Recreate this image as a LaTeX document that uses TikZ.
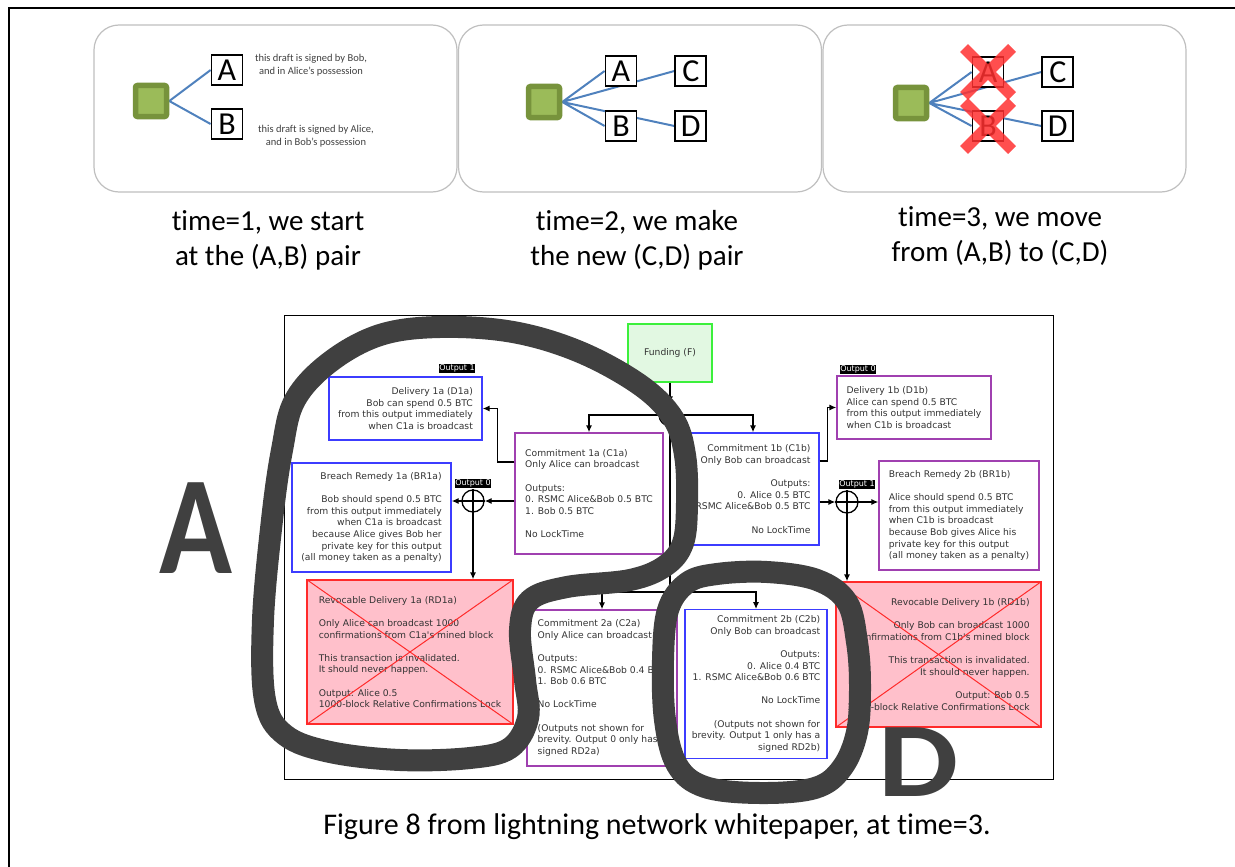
\documentclass[tikz,border=0pt]{standalone}
\usepackage{fontspec}
\setmainfont{Carlito}[Ligatures=NoCommon]
\newfontfamily\dejavu{DejaVu Sans}
\usetikzlibrary{arrows,arrows.meta,positioning,backgrounds}

\definecolor{linkblue}{HTML}{4F81BD}
\definecolor{olivedark}{HTML}{77933C}
\definecolor{olivelight}{HTML}{9BBB59}
\definecolor{panelgray}{HTML}{BFBFBF}
\definecolor{txgray}{HTML}{333333}
\definecolor{boxblue}{HTML}{3C3CFF}
\definecolor{boxpurple}{HTML}{A040B0}
\definecolor{boxred}{HTML}{FF2A2A}
\definecolor{boxgreen}{HTML}{3CF03C}
\definecolor{fundfill}{HTML}{E2F8E2}
\definecolor{pinkfill}{HTML}{FFC0CB}
\definecolor{blobgray}{HTML}{404040}
\definecolor{crossred}{HTML}{FF3030}

\tikzset{
	panel/.style={draw=panelgray, line width=1.2pt, rounded corners=25pt, minimum width=363pt, minimum height=167pt},
	greensq/.style={draw=olivedark, fill=olivelight, line width=5.5pt, minimum size=31pt, rounded corners=2pt},
	letterbox/.style={draw, fill=white, line width=1.8pt, minimum width=31pt, minimum height=30pt, inner sep=0pt, font=\fontsize{32}{32}\selectfont},
	linkline/.style={draw=linkblue, line width=2pt},
	crossx/.style={draw=crossred, line width=11pt, opacity=0.85},
	notetext/.style={align=center, text=blobgray, font=\fontsize{10.5}{13}\selectfont},
	captext/.style={align=center, font=\fontsize{29}{35}\selectfont},
	txbox/.style={draw, line width=1.3pt, inner sep=6pt, text=txgray, font=\dejavu\fontsize{9.2}{11.6}\selectfont},
	bluebox/.style={txbox, draw=boxblue},
	purplebox/.style={txbox, draw=boxpurple},
	redbox/.style={txbox, draw=boxred, fill=pinkfill},
	outlbl/.style={fill=black, text=white, inner sep=0.7pt, font=\dejavu\fontsize{8}{8}\selectfont},
	outcirc/.style={circle, draw, line width=1.3pt, minimum size=22pt, inner sep=0pt},
	blob/.style={draw=blobgray, line width=22pt, line join=round},
	bigletter/.style={text=blobgray, inner sep=0pt, font=\fontsize{140}{140}\selectfont\bfseries},
}

\begin{document}
\begin{tikzpicture}[x=1pt,y=-1pt,
	>={Latex[length=7pt,width=6pt]},
	%thick
	]
	\useasboundingbox (0,0) rectangle (1235,867);
	\draw[line width=2pt] (9,867) -- (9,8) -- (1235,8);
	
	% time=1
	\node[panel] (t1) at (275.5,108.5) {};
	\node[greensq] (g1) at (151,101) {};
	\node[letterbox] (a1) at (227,70) {A};
	\node[letterbox] (b1) at (227,124) {B};
	\node[notetext] (na) at (311,65) {this draft is signed by Bob,\\and in Alice’s possession};
	\node[notetext] (nb) at (316,136) {this draft is signed by Alice,\\and in Bob’s possession};
	
	% time=2
	\node[panel] (t2) at (640,108.5) {};
	\node[greensq] (g2) at (544,102) {};
	\node[letterbox] (a2) at (621,71) {A};
	\node[letterbox] (b2) at (621,126) {B};
	\node[letterbox,right=37pt of a2] (c2) {C};
	\node[letterbox,right=37pt of b2] (d2) {D};
	
	% time=3
	\node[panel] (t3) at (1004.5,108.5) {};
	\node[greensq] (g3) at (911,103) {};
	\node[letterbox] (a3) at (988,72) {A};
	\node[letterbox] (b3) at (988,126) {B};
	\node[letterbox,right=37pt of a3] (c3) {C};
	\node[letterbox,right=37pt of b3] (d3) {D};
	
	\begin{pgfonlayer}{background}
	\draw[linkline] (g1.east) -- (a1.west) (g1.east) -- (b1.west);
	\draw[linkline] (g2.east) -- (a2.west) (g2.east) -- (c2.west) (g2.east) -- (b2.west) (g2.east) -- (d2.west);
	\draw[linkline] (g3.east) -- (a3.west) (g3.east) -- (c3.west) (g3.east) -- (b3.west) (g3.east) -- (d3.west);
	\end{pgfonlayer}
	
	\foreach \n in {a3,b3}
		\draw[crossx] ([shift={(-24,-24)}]\n.center) -- ([shift={(24,24)}]\n.center)
			([shift={(-24,24)}]\n.center) -- ([shift={(24,-24)}]\n.center);
	
	\node[captext] (cap1) at (268,240) {time=1, we start\\at the (A,B) pair};
	\node[captext] (cap2) at (637,240) {time=2, we make\\the new (C,D) pair};
	\node[captext] (cap3) at (1000,236) {time=3, we move\\from (A,B) to (C,D)};
	
	% figure 8
	\draw[line width=0.8pt] (284,315) rectangle (1053,779);
	
	\node[txbox,draw=boxgreen,fill=fundfill,minimum width=84pt,minimum height=58pt] (F) at (670,353) {Funding (F)};
	
	\node[bluebox,align=right,minimum width=153pt,minimum height=63pt] (D1a) at (405.5,408.5)
		{Delivery 1a (D1a)\\Bob can spend 0.5 BTC\\from this output immediately\\when C1a is broadcast};
	\node[purplebox,align=left,minimum width=148pt,minimum height=121pt] (C1a) at (589,493.5)
		{Commitment 1a (C1a)\\Only Alice can broadcast\\[11.6pt]Outputs:\\0. RSMC Alice\&Bob 0.5 BTC\\1. Bob 0.5 BTC\\[11.6pt]No LockTime};
	\node[bluebox,align=right,minimum width=132pt,minimum height=112pt] (C1b) at (753,489)
		{Commitment 1b (C1b)\\Only Bob can broadcast\\[11.6pt]Outputs:\\0. Alice 0.5 BTC\\RSMC Alice\&Bob 0.5 BTC\\[11.6pt]No LockTime};
	\node[purplebox,align=left,minimum width=154pt,minimum height=63pt] (D1b) at (914,407.5)
		{Delivery 1b (D1b)\\Alice can spend 0.5 BTC\\from this output immediately\\when C1b is broadcast};
	\node[bluebox,align=right,minimum width=159pt,minimum height=109pt] (BR1a) at (371.5,517.5)
		{Breach Remedy 1a (BR1a)\\[11.6pt]Bob should spend 0.5 BTC\\from this output immediately\\when C1a is broadcast\\because Alice gives Bob her\\private key for this output\\(all money taken as a penalty)};
	\node[purplebox,align=left,minimum width=160pt,minimum height=109pt] (BR1b) at (959,515.5)
		{Breach Remedy 2b (BR1b)\\[11.6pt]Alice should spend 0.5 BTC\\from this output immediately\\when C1b is broadcast\\because Bob gives Alice his\\private key for this output\\(all money taken as a penalty)};
	\node[redbox,align=left,minimum width=206pt,minimum height=144pt] (RD1a) at (410,652)
		{Revocable Delivery 1a (RD1a)\\[11.6pt]Only Alice can broadcast 1000\\confirmations from C1a's mined block\\[11.6pt]This transaction is invalidated.\\It should never happen.\\[11.6pt]Output: Alice 0.5\\1000-block Relative Confirmations Lock};
	\node[redbox,align=right,minimum width=205pt,minimum height=145pt] (RD1b) at (938.5,654.5)
		{Revocable Delivery 1b (RD1b)\\[11.6pt]Only Bob can broadcast 1000\\confirmations from C1b's mined block\\[11.6pt]This transaction is invalidated.\\It should never happen.\\[11.6pt]Output: Bob 0.5\\1000-block Relative Confirmations Lock};
	\node[purplebox,align=left,minimum width=150pt,minimum height=156pt] (C2a) at (602,688)
		{Commitment 2a (C2a)\\Only Alice can broadcast\\[11.6pt]Outputs:\\0. RSMC Alice\&Bob 0.4 BTC\\1. Bob 0.6 BTC\\[11.6pt]No LockTime\\[11.6pt](Outputs not shown for\\brevity. Output 0 only has a\\signed RD2a)};
	\node[bluebox,align=right,minimum width=142pt,minimum height=148pt] (C2b) at (756,684)
		{Commitment 2b (C2b)\\Only Bob can broadcast\\[11.6pt]Outputs:\\0. Alice 0.4 BTC\\1. RSMC Alice\&Bob 0.6 BTC\\[11.6pt]No LockTime\\[11.6pt](Outputs not shown for\\brevity. Output 1 only has a\\signed RD2b)};
	
	\draw[boxred,line width=1pt] (RD1a.north west) -- (RD1a.south east) (RD1a.north east) -- (RD1a.south west);
	\draw[boxred,line width=1pt] (RD1b.north west) -- (RD1b.south east) (RD1b.north east) -- (RD1b.south west);
	
	\node[outcirc] (split) at (670,415) {};
	\node[outcirc] (o1a) at (473,501) {};
	\node[outcirc] (o1b) at (847,502) {};
	\node[outlbl,above=1pt of o1a] (l1a) {Output 0};
	\node[outlbl,above=1pt of o1b,xshift=10pt] (l1b) {Output 1};
	\node[outlbl,anchor=south east] (lD1a) at ([xshift=-7pt,yshift=3pt]D1a.north east) {Output 1};
	\node[outlbl,anchor=south west] (lD1b) at ([xshift=3pt,yshift=1pt]D1b.north west) {Output 0};
	\coordinate (fork) at (670,592);
	
	\draw[->,line width=1.3pt] (F) -- (split.north);
	\draw[->,line width=1.3pt] (split.center) -| (C1a.north);
	\draw[->,line width=1.3pt] (split.center) -| (C1b.north);
	\draw[line width=1.3pt] (split.north) -- (fork);
	\draw[->,line width=1.3pt] (fork) -| (C2a.north);
	\draw[->,line width=1.3pt] (fork) -| (C2b.north);
	
	\draw[->,line width=1.3pt] ([yshift=31.5pt]C1a.west) -- ++(-17,0) |- (D1a.east);
	\draw[->,line width=1.3pt] ([yshift=28pt]C1b.east) -- ++(8,0) |- (D1b.west);
	
	\draw[->,line width=1.3pt] (C1a.west |- o1a) -- (o1a.east);
	\draw[->,line width=1.3pt] (o1a.east) -- (BR1a.east |- o1a);
	\draw[->,line width=1.3pt] (o1a.north) -- (o1a.north |- RD1a.north);
	\draw[->,line width=1.3pt] (C1b.east |- o1b) -- (o1b.west);
	\draw[->,line width=1.3pt] (o1b.west) -- (BR1b.west |- o1b);
	\draw[->,line width=1.3pt] (o1b.north) -- (o1b.north |- RD1b.north);
	
	% hand drawn loops
	\draw[blob] plot[smooth cycle,tension=0.6] coordinates {(440,327) (513,332) (580,352) (640,385) (673,418) (685,455) (687,503) (683,543) (665,566) (630,580) (567,587) (530,600) (520,630) (525,680) (528,718) (510,748) (470,758) (400,760) (330,752) (285,735) (265,700) (263,620) (272,520) (282,450) (295,400) (330,362) (380,335)};
	\draw[blob] plot[smooth cycle,tension=0.6] coordinates {(687,583) (717,574) (767,572) (817,580) (847,602) (857,642) (860,685) (857,732) (842,768) (815,788) (760,793) (705,787) (677,765) (665,720) (663,660) (668,610)};
	\node[bigletter,transform shape,xscale=0.86] (bigA) at (196,528) {A};
	\node[bigletter,font=\fontsize{106}{106}\selectfont\bfseries,transform shape,xscale=1.2] (bigD) at (919,762) {D};
	
	\node[captext,font=\fontsize{30}{36}\selectfont] (fig) at (657,827) {Figure 8 from lightning network whitepaper, at time=3.};
\end{tikzpicture}
\end{document}
